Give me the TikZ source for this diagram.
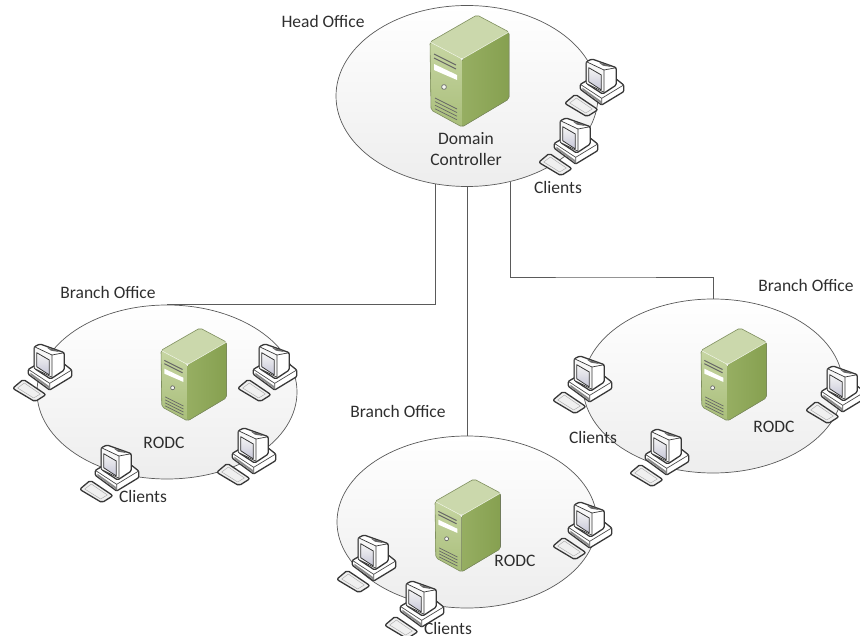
\documentclass[tikz,border=0pt]{standalone}
\usetikzlibrary{shapes.geometric}
\usepackage{fontspec}
\setmainfont{Carlito}
\definecolor{inkc}{HTML}{2E2E2E}
\definecolor{linec}{HTML}{5A5A5A}
\definecolor{srvtop}{HTML}{CBD8AC}
\definecolor{srvfrontA}{HTML}{C6D5A2}
\definecolor{srvfrontB}{HTML}{A9BE7A}
\definecolor{srvsideA}{HTML}{96AE62}
\definecolor{srvsideB}{HTML}{86A050}
\definecolor{srvedge}{HTML}{7F8F5F}
\tikzset{
  x=1pt,y=-1pt,
  office/.style={ellipse,draw=linec,line width=.7pt,top color=white,bottom color=black!7,inner sep=0pt,minimum width=2*#1},
  lbl/.style={text=inkc,font=\fontsize{17.5}{21}\selectfont,align=center,inner sep=0pt},
  wire/.style={draw=linec,line width=.7pt},
  client/.pic={
    \begin{scope}[scale=1/3,shift={(-38,-75)},line width=1.3pt,draw=black!78,line join=round]
      % base
      \draw[fill=white,rounded corners=1pt] (84,148)--(115,130)--(189,130)--(214,150)--(214,170)--(148,210)--(84,163)--cycle;
      \fill[black!45] (90,158)--(146,198)--(146,205)--(90,165)--cycle;
      \draw[black!70,line width=.7pt] (148,190)--(214,150);
      \draw[black!70,line width=.7pt] (84,148)--(148,190)--(148,210);
      % monitor
      \draw[fill=white,rounded corners=1.5pt] (102,80)--(119,72)--(192,98)--(192,150)--(151,177)--(102,145)--cycle;
      \draw[line width=.7pt,fill=black!3] (102,80)--(155,105)--(155,172)--(102,145)--cycle;
      \draw[line width=.7pt] (155,105)--(192,98);
      \fill[black!60] (140,83)--(168,90)--(176,96)--(152,92)--cycle;
      % screen
      \shade[top color=black!4,bottom color=blue!30!black!22] (109,98)--(147,120)--(147,165)--(109,140)--cycle;
      \draw[line width=.8pt] (109,98)--(147,120)--(147,165)--(109,140)--cycle;
      % keyboard
      \draw[fill=black!6,rounded corners=2pt] (37,205)--(69,178)--(137,224)--(104,245)--cycle;
      \draw[line width=.4pt,draw=black!35] (52,204)--(72,189)--(120,222)--(100,234)--cycle;
    \end{scope}
  },
  server/.pic={
    \begin{scope}[shift={(-430,-15)},line join=round]
      \shade[top color=srvfrontA,bottom color=srvfrontB,rounded corners=2pt]
        (430,42)--(462,59)--(462,127)--(431,110)--cycle;
      \fill[left color=srvsideA,right color=srvsideB,rounded corners=2pt]
        (462,59)--(509,32)--(509,99)--(462,127)--cycle;
      \fill[srvtop,rounded corners=2pt]
        (430,42)--(477,15)--(509,32)--(462,59)--cycle;
      \draw[srvedge,line width=.6pt,rounded corners=2pt]
        (430,42)--(477,15)--(509,32)--(509,99)--(462,127)--(431,110)--cycle;
      \draw[white!70!srvfrontA,line width=.5pt] (430,42)--(462,59)--(509,32);
      \draw[draw=black!60,line width=1pt] (434,54)--(456,65);
      \draw[draw=black!60,line width=1pt] (434,58)--(456,69);
      \fill[white] (434,64)--(457,75)--(457,80)--(434,70)--cycle;
      \draw[draw=black!60,line width=.7pt,fill=white!85!srvfrontA] (444,87) circle (2.4);
      \foreach \d in {0,3.6,7.2,10.8}{
        \draw[draw=black!60,line width=.7pt] (435,98+\d)--(457,109+\d);}
    \end{scope}
  }
}
\begin{document}
\begin{tikzpicture}
\useasboundingbox (0,0) rectangle (860,636);
\node[office=131pt,minimum height=181pt] (head) at (467,96) {};
\node[office=130pt,minimum height=174pt] (leftoff) at (167,392) {};
\node[office=130pt,minimum height=172pt] (midoff) at (467,522) {};
\node[office=130pt,minimum height=174pt] (rightoff) at (713,386) {};
\path[wire] (head.250) |- (leftoff.north);
\path[wire] (head.south) -- (midoff.north);
\coordinate (jog) at (600,277);
\path[wire] (head.297) |- (jog) -| (rightoff.north);
\pic at (430,15) {server};
\pic[scale=.83] at (161,328) {server};
\pic[scale=.83] at (435,479) {server};
\pic[scale=.83] at (701,328) {server};
\foreach \p in {(565,60),(539,119),(13,345),(238,345),(217,429),(80,446),(553,503),(337,536),(385,582),(553,357),(630,430),(806,367)}
  \pic at \p {client};
\node[lbl] (t1) at (323,21) {Head Office};
\node[lbl] (t2) at (466,149) {Domain\\Controller};
\node[lbl] (t3) at (558,187) {Clients};
\node[lbl] (t4) at (108,292) {Branch Office};
\node[lbl] (t5) at (164,443) {RODC};
\node[lbl] (t6) at (143,496) {Clients};
\node[lbl] (t7) at (398,411) {Branch Office};
\node[lbl] (t8) at (515,561) {RODC};
\node[lbl] (t9) at (448,628) {Clients};
\node[lbl] (t10) at (806,285) {Branch Office};
\node[lbl] (t11) at (774,427) {RODC};
\node[lbl] (t12) at (593,437) {Clients};
\end{tikzpicture}
\end{document}
